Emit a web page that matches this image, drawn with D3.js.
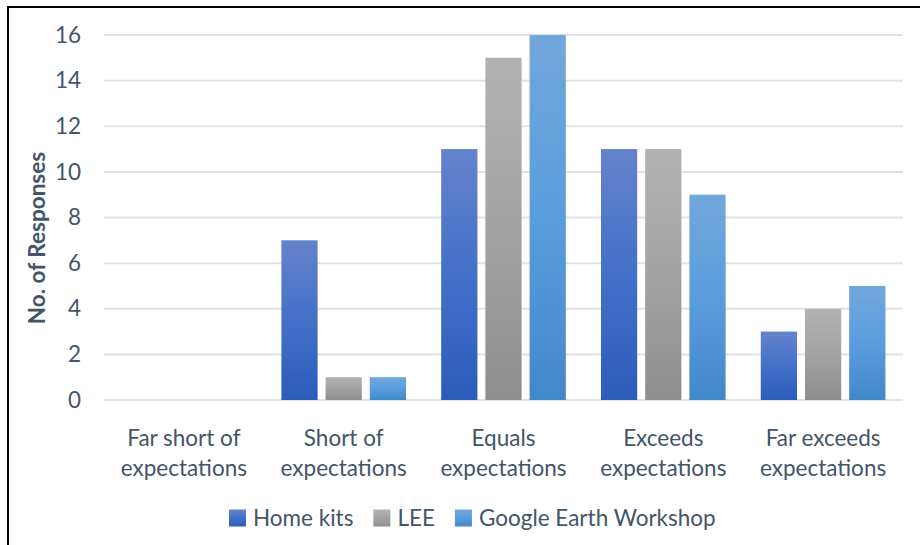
<!DOCTYPE html>
<html>
<head>
<meta charset="utf-8">
<script src="https://cdn.jsdelivr.net/npm/d3@7"></script>
<style>
  html, body { margin: 0; padding: 0; background: #fff; }
  svg { display: block; }
</style>
</head>
<body>
<svg id="chart" width="920" height="545"></svg>
<script>
// Survey responses by expectation level
const categories = [
  ["Far short of", "expectations"],
  ["Short of", "expectations"],
  ["Equals", "expectations"],
  ["Exceeds", "expectations"],
  ["Far exceeds", "expectations"]
];
const seriesNames = ["Home kits", "LEE", "Google Earth Workshop"];
const homeKits = [0, 7, 11, 11, 3];
const lee = [0, 1, 15, 11, 4];
const googleEarth = [0, 1, 16, 9, 5];
const yTicks = [0, 2, 4, 6, 8, 10, 12, 14, 16];

const seriesValues = [homeKits, lee, googleEarth];
const gradients = [
  ["#6583cc", "#4470c8", "#2c5cba"],
  ["#b2b2b2", "#a3a3a3", "#8e8e8e"],
  ["#72a7dc", "#5a9ddf", "#4188ca"]
];
const textColor = "#44546a";
const font = "Lato, 'Open Sans', sans-serif";
const fontSize = "22.5px";

const svg = d3.select("#chart");
const defs = svg.append("defs");
gradients.forEach((g, i) => {
  const lg = defs.append("linearGradient")
    .attr("id", "grad" + i)
    .attr("x1", 0).attr("y1", 0).attr("x2", 0).attr("y2", 1);
  lg.append("stop").attr("offset", "0%").attr("stop-color", g[0]);
  lg.append("stop").attr("offset", "50%").attr("stop-color", g[1]);
  lg.append("stop").attr("offset", "100%").attr("stop-color", g[2]);
});

// Outer frame (top and left edges visible)
svg.append("rect")
  .attr("x", 8).attr("y", 7)
  .attr("width", 1000).attr("height", 1000)
  .attr("fill", "none")
  .attr("stroke", "#000")
  .attr("stroke-width", 2);

const plot = { left: 104, right: 903, top: 35, bottom: 400 };

const x0 = d3.scaleBand()
  .domain(d3.range(categories.length))
  .range([plot.left, plot.right])
  .paddingInner(0.22)
  .paddingOuter(0.11);

const x1 = d3.scaleBand()
  .domain(d3.range(seriesNames.length))
  .range([0, x0.bandwidth()])
  .paddingInner(0.18);

const y = d3.scaleLinear().domain([0, 16]).range([plot.bottom, plot.top]);

// Gridlines
svg.append("g")
  .selectAll("line")
  .data(yTicks)
  .join("line")
  .attr("x1", plot.left).attr("x2", plot.right)
  .attr("y1", d => y(d)).attr("y2", d => y(d))
  .attr("stroke", "#dfe3e8")
  .attr("stroke-width", 2);

// Y axis labels
const yAxis = svg.append("g")
  .attr("transform", `translate(${plot.left}, 0)`)
  .call(d3.axisLeft(y).tickValues(yTicks).tickSize(0).tickPadding(23));
yAxis.select(".domain").remove();
yAxis.selectAll("text")
  .attr("fill", textColor)
  .style("font-family", font)
  .style("font-size", fontSize);

// Bars
categories.forEach((cat, ci) => {
  const g = svg.append("g").attr("transform", `translate(${x0(ci)}, 0)`);
  g.selectAll("rect")
    .data(seriesValues.map((s, si) => ({ si, v: s[ci] })).filter(d => d.v > 0))
    .join("rect")
    .attr("x", d => x1(d.si))
    .attr("width", x1.bandwidth())
    .attr("y", d => y(d.v))
    .attr("height", d => y(0) - y(d.v))
    .attr("fill", d => `url(#grad${d.si})`);
});

// Category labels
const xLabels = svg.append("g");
categories.forEach((lines, ci) => {
  const cx = x0(ci) + x0.bandwidth() / 2;
  const t = xLabels.append("text")
    .attr("x", cx)
    .attr("y", 446)
    .attr("text-anchor", "middle")
    .attr("fill", textColor)
    .style("font-family", font)
    .style("font-size", fontSize);
  lines.forEach((ln, li) => {
    t.append("tspan").attr("x", cx).attr("dy", li === 0 ? 0 : 30).text(ln);
  });
});

// Y axis title
svg.append("text")
  .attr("transform", "translate(45, 238) rotate(-90)")
  .attr("text-anchor", "middle")
  .attr("fill", textColor)
  .style("font-family", font)
  .style("font-size", fontSize)
  .style("font-weight", "bold")
  .text("No. of Responses");

// Legend
const legend = svg.append("g").attr("transform", "translate(229, 518)");
let lx = 0;
seriesNames.forEach((name, i) => {
  const item = legend.append("g").attr("transform", `translate(${lx}, 0)`);
  item.append("rect")
    .attr("x", 0).attr("y", -8.5)
    .attr("width", 17).attr("height", 17)
    .attr("fill", `url(#grad${i})`);
  const t = item.append("text")
    .attr("x", 24).attr("y", 0)
    .attr("dy", "0.35em")
    .attr("fill", textColor)
    .style("font-family", font)
    .style("font-size", fontSize)
    .text(name);
  lx += 24 + t.node().getComputedTextLength() + 20;
});
</script>
</body>
</html>
